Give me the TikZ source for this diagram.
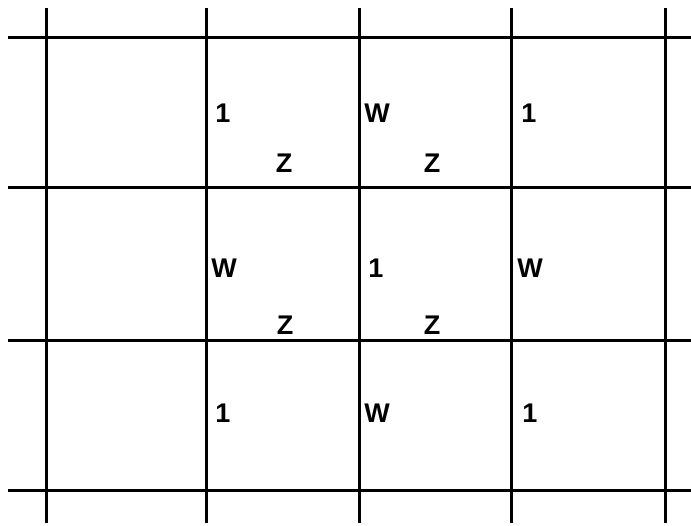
\documentclass[tikz,border=0pt]{standalone}
\usepackage{fontspec}
\setmainfont{Liberation Sans}
\begin{document}
\begin{tikzpicture}[x=1pt, y=-1pt,
    gridline/.style={line width=3pt, black},
    lbl/.style={font=\fontsize{27}{27}\selectfont\bfseries, inner sep=0pt}]
    \useasboundingbox (0,0) rectangle (691,525);

    % Horizontal lines
    \foreach \y in {37,187,340,490}
        \draw[gridline] (8,\y) -- (691,\y);

    % Vertical lines
    \foreach \x in {46,206,359,511,665}
        \draw[gridline] (\x,8) -- (\x,523);

    % Top row
    \node[lbl] (a1) at (223,113) {1};
    \node[lbl] (a2) at (377,113) {W};
    \node[lbl] (a3) at (529,113) {1};
    \node[lbl] (z1) at (284,163) {Z};
    \node[lbl] (z2) at (432,163) {Z};

    % Middle row
    \node[lbl] (b1) at (224,268) {W};
    \node[lbl] (b2) at (376,268) {1};
    \node[lbl] (b3) at (530,268) {W};
    \node[lbl] (z3) at (285,325) {Z};
    \node[lbl] (z4) at (432,325) {Z};

    % Bottom row
    \node[lbl] (c1) at (223,413) {1};
    \node[lbl] (c2) at (377,413) {W};
    \node[lbl] (c3) at (530,413) {1};
\end{tikzpicture}
\end{document}
